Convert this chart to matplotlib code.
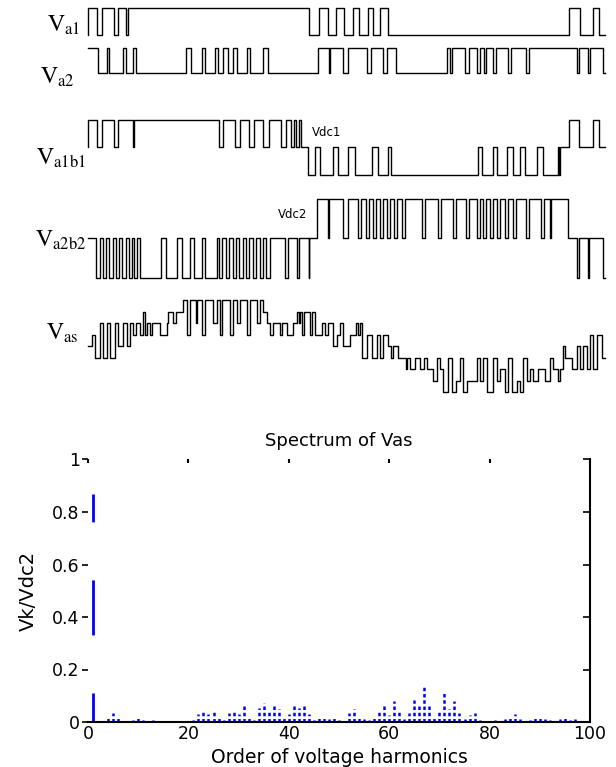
import matplotlib
matplotlib.use("Agg")
import matplotlib.pyplot as plt

plt.rcParams['mathtext.fontset'] = 'stix'
plt.rcParams['lines.scale_dashes'] = False

# time axis of the switching waveforms (one fundamental period)
T_END = 517

# switching instants and levels after each instant
va1_t = [0, 0.3, 9, 14, 26, 30, 38, 40, 221, 231, 240, 248, 256, 265, 271, 280, 285,
         292, 299.5, 481, 492, 505, 511]
va1_v = [0, 1, 0, 1, 0, 1, 0, 1, 0, 1, 0, 1, 0, 1, 0, 1, 0, 1, 0, 1, 0, 1, 0]

va2_t = [0, 9.7, 18.7, 21.3, 35.3, 38, 45.3, 48, 98, 102.7, 113.7, 117, 127, 130.3,
         135.3, 139.7, 145.3, 148.7, 158.7, 162, 175.3, 179.7, 230, 240.5, 241.5, 255,
         260, 279, 283, 295, 299, 308, 359, 362, 364, 377, 381, 389, 392, 396, 398, 405,
         408, 420, 423, 438, 441, 489, 491, 500, 502, 515]
va2_v = [1, 0, 1, 0, 1, 0, 1, 0, 1, 0, 1, 0, 1, 0, 1, 0, 1, 0, 1, 0, 1, 0, 1, 0, 1, 0,
         1, 0, 1, 0, 1, 0, 1, 0, 1, 0, 1, 0, 1, 0, 1, 0, 1, 0, 1, 0, 1, 0, 1, 0, 1, 0]

va1b1_t = [0, 0.3, 9, 14, 26, 30, 44.5, 45.5, 131, 135, 147, 152, 161, 166, 175, 181,
           193, 198, 203, 206, 208, 211, 213, 220, 227, 232, 245, 250, 260, 267, 284,
           290, 300, 303, 390, 394, 405, 409, 419, 425, 432, 437, 449, 455, 470, 471,
           472, 481, 491, 505, 511]
va1b1_v = [0, 1, 0, 1, 0, 1, 0, 1, 0, 1, 0, 1, 0, 1, 0, 1, 0, 1, 0, 1, 0, 1, 0, -1, 0,
           -1, 0, -1, 0, -1, 0, -1, 0, -1, 0, -1, 0, -1, 0, -1, 0, -1, 0, -1, 0, -1, 0,
           1, 0, 1, 0]

va2b2_t = [0, 8, 11.5, 14.5, 18, 21, 24.5, 27.5, 31, 34, 37.5, 40.5, 44, 46, 48.5, 52,
           73.3, 78.4, 88.5, 93.6, 102, 105.5, 114, 117.3, 129.2, 130.9, 134.3, 137.7,
           141.1, 144.5, 147.8, 151.2, 154.6, 158, 161.4, 164.8, 168.2, 171.6, 175,
           178.4, 181.7, 197, 200.4, 208.9, 210.6, 220.7, 221.4, 229, 240, 241, 255, 260,
           269.9, 272.9, 278.4, 281.4, 285.1, 288.1, 291.9, 294.9, 298.7, 301.7, 305.5,
           308.5, 314, 317, 334.3, 337.3, 349.6, 352.6, 364.8, 367.8, 378.4, 381.4,
           388.6, 391.6, 395.4, 398.4, 402.1, 405.1, 408.9, 411.9, 417.3, 420.3, 424.8,
           427.8, 437.7, 440.7, 452.9, 455.9, 462.1, 463.1, 480, 489, 491, 500, 501, 515]
va2b2_v = [0, -1, 0, -1, 0, -1, 0, -1, 0, -1, 0, -1, 0, -1, 0, -1,
           0, -1, 0, -1, 0, -1, 0, -1, 0, -1, 0, -1,
           0, -1, 0, -1, 0, -1, 0, -1, 0, -1, 0,
           -1, 0, -1, 0, -1, 0, -1, 0, 1, 0, 1, 0, 1,
           0, 1, 0, 1, 0, 1, 0, 1, 0, 1, 0,
           1, 0, 1, 0, 1, 0, 1, 0, 1, 0, 1,
           0, 1, 0, 1, 0, 1, 0, 1, 0, 1, 0,
           1, 0, 1, 0, 1, 0, 1, 0, -1, 0, -1, 0, -1]

vas_t = [0, 3.7, 7, 12, 15.3, 18.7, 22, 27, 30.3, 35.3, 38.7, 42, 45.3, 48, 52, 55.3,
         57, 58.7, 62, 64, 72, 78.7, 80.3, 85.3, 88, 95.3, 98.7, 102, 108, 109, 113.7,
         117, 125.3, 128.7, 132, 133.7, 142, 145.3, 148.7, 152, 158.7, 162, 168.7, 172,
         175.3, 178.7, 182, 185.3, 192, 193.7, 198.7, 205.3, 209, 211,
         212, 214, 216, 222, 224, 227, 233.7, 237, 240.3, 245.3, 249, 252, 255.3, 262,
         268, 270, 272, 273.7, 278.7, 283.7, 288.7, 292, 295.3, 300.3, 303, 305.3,
         310.3, 318, 319, 322, 327, 332, 336, 338.7, 345.3, 348.7, 352, 355.3, 360.3,
         363.7, 368, 372, 375.3, 378.7, 388.7, 392, 395.3, 398.7, 405.3, 408.7, 412,
         417, 420.3, 423.7, 428.7, 432, 435.3, 438.7, 442, 445.3, 450.3, 457, 462,
         465.3, 470.3, 471.5, 475.3, 476.5, 483.7, 488.7, 492, 495.3, 498.7, 502,
         505.3, 508.7, 513.7]
vas_v = [0, 1, -1, 2, -1, 2, -1, 2, 0, 2, 0, 2, 1, 2, 1, 3,
         1, 2, 1, 2, 1, 2, 3, 2, 3, 4, 1, 4, 2, 4, 1,
         4, 2, 4, 1, 4, 1, 4, 2, 4, 1, 4, 2, 4,
         3, 2, 1, 2, 1, 2, 1, 2, 3, 2,
         3, 1, 3, 1, 3, 1, 2, 1, 2, 0, 1, 2, 0, 1,
         2, 1, 2, -1, 1, -1, 1, -1, 1, 0, -1, 0,
         -1, -2, -1, -2, -1, -2, -1, -2, -3, -1, -2, -4, -1,
         -4, -3, -1, -4, -3, -1, -3, -1, -4, -1, -3, -2,
         -4, -1, -4, -3, -4, -1, -3, -2, -3, -2, -3, -1,
         -2, -3, -2, 0, -1, -2, 0, -2, 0, -2, 1,
         -2, 1, -1]

# harmonic spectrum of Vas, orders 1..100
harm_order = list(range(1, 101))
harm_mag = [0.87, 0.0, 0.005, 0.02, 0.035, 0.015, 0.005, 0.004, 0.008, 0.015,
            0.006, 0.004, 0.006, 0.003, 0.004, 0.003, 0.005, 0.003, 0.005, 0.003,
            0.006, 0.03, 0.045, 0.03, 0.04, 0.02, 0.006, 0.035, 0.045, 0.03,
            0.06, 0.02, 0.008, 0.055, 0.072, 0.045, 0.07, 0.05, 0.02, 0.03,
            0.07, 0.055, 0.065, 0.03, 0.008, 0.015, 0.02, 0.01, 0.018, 0.008,
            0.005, 0.035, 0.05, 0.02, 0.01, 0.006, 0.02, 0.04, 0.06, 0.025,
            0.08, 0.045, 0.01, 0.035, 0.084, 0.06, 0.14, 0.07, 0.02, 0.04,
            0.11, 0.05, 0.08, 0.035, 0.01, 0.025, 0.035, 0.008, 0.004, 0.003,
            0.006, 0.004, 0.01, 0.02, 0.03, 0.01, 0.004, 0.006, 0.015, 0.02,
            0.012, 0.006, 0.004, 0.01, 0.015, 0.008, 0.012, 0.003, 0.002, 0.002]

W, H = 616, 767
fig = plt.figure(figsize=(W / 100, H / 100), dpi=100)

# ---- switching waveforms ----
axw = fig.add_axes([88 / W, (H - 400) / H, T_END / W, 400 / H])
axw.set_xlim(0, T_END)
axw.set_ylim(400, 0)
axw.axis('off')


def trace(t, v, base, amp):
    x = list(t) + [T_END]
    y = [base - amp * lv for lv in v] + [base - amp * v[-1]]
    axw.plot(x, y, drawstyle='steps-post', color='black', lw=1.0, clip_on=False)


trace(va1_t, va1_v, 35, 27)
trace(va2_t, va2_v, 73, 25)
trace(va1b1_t, va1b1_v, 147, 27.5)
trace(va2b2_t, va2b2_v, 238, 39.5)
trace(vas_t, vas_v, 346, 11.5)

lab_kw = dict(ha='right', va='baseline', fontsize=17)
axw.text(80 - 88, 32, r'$\mathrm{V_{a1}}$', **lab_kw)
axw.text(75 - 88, 84, r'$\mathrm{V_{a2}}$', **lab_kw)
axw.text(86 - 88, 165, r'$\mathrm{V_{a1b1}}$', **lab_kw)
axw.text(86 - 88, 247, r'$\mathrm{V_{a2b2}}$', **lab_kw)
axw.text(79 - 88, 340, r'$\mathrm{V_{as}}$', **lab_kw)
axw.text(224, 133, 'Vdc1', ha='left', va='center', fontsize=8.5)
axw.text(190, 215, 'Vdc2', ha='left', va='center', fontsize=8.5)

# ---- spectrum ----
ax = fig.add_axes([88 / W, 45 / H, 502 / W, 262.5 / H])
ax.set_xlim(0, 100)
ax.set_ylim(0, 1)
ax.vlines(harm_order[1:], 0, harm_mag[1:], colors='#0000ff', lw=1.8,
          linestyles=[(0, (2.5, 2))])
ax.vlines(harm_order[:1], 0, harm_mag[:1], colors='#0000ff', lw=2,
          linestyles=[(18.7, (39.6, 41.8))])

for s in ['top', 'left', 'right']:
    ax.spines[s].set_visible(False)
ax.spines['bottom'].set_linewidth(1.5)

ax.set_xticks([0, 20, 40, 60, 80, 100])
ax.set_yticks([0, 0.2, 0.4, 0.6, 0.8, 1])
ax.set_yticklabels(['0', '0.2', '0.4', '0.6', '0.8', '1'])
ax.tick_params(axis='x', bottom=False, top=True, direction='in', length=3,
               width=1.5, labelsize=12.5, pad=2)
ax.tick_params(axis='y', left=True, direction='out', length=4, width=1.2,
               labelsize=12.5, pad=2)

rax = ax.secondary_yaxis('right')
rax.set_yticks([0, 0.2, 0.4, 0.6, 0.8, 1])
rax.tick_params(direction='in', length=5, width=1.2, labelright=False)
rax.spines['right'].set_linewidth(1.5)

ax.set_title('Spectrum of Vas', fontsize=13, pad=10)
ax.set_xlabel('Order of voltage harmonics', fontsize=13.5)
ax.set_ylabel('Vk/Vdc2', fontsize=14)
ax.xaxis.set_label_coords(0.5, -0.1)
ax.yaxis.set_label_coords(-0.1, 0.5)

fig.savefig('out.png', dpi=100)
